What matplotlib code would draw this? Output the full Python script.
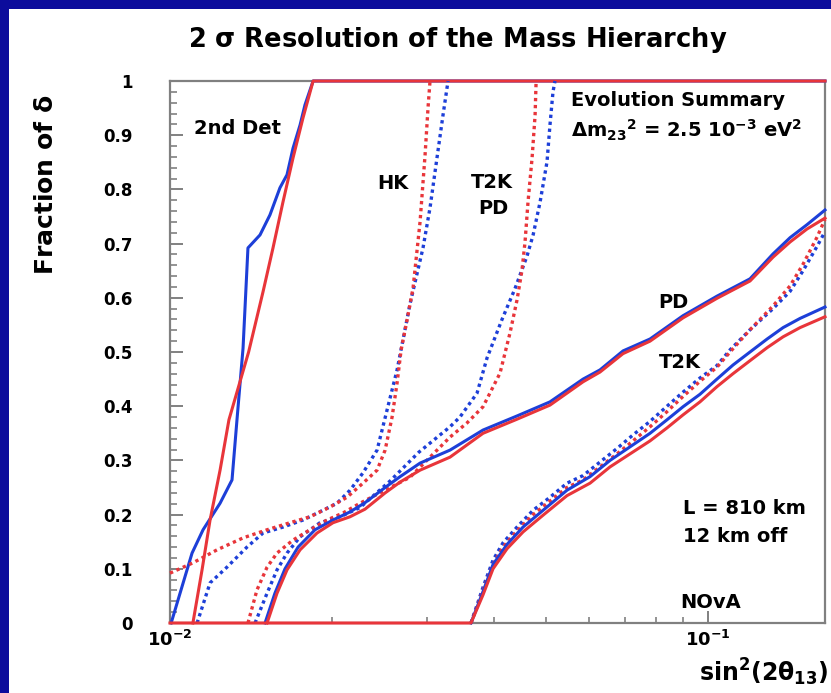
import matplotlib
matplotlib.use('Agg')
import matplotlib.pyplot as plt
from matplotlib.patches import Rectangle
from matplotlib.ticker import MultipleLocator, FixedLocator, NullFormatter

plt.rcParams['font.family'] = ['DejaVu Sans']
plt.rcParams['font.weight'] = 'bold'
plt.rcParams['mathtext.fontset'] = 'custom'
plt.rcParams['mathtext.rm'] = 'DejaVu Sans:bold'
plt.rcParams['mathtext.it'] = 'DejaVu Sans:bold'
plt.rcParams['mathtext.bf'] = 'DejaVu Sans:bold'

BLUE = '#1d3fd8'
RED = '#e8353a'
XMAX = 0.165

# 2nd detector (solid)
det2_blue_x = [0.01005, 0.01044, 0.01099, 0.01152, 0.01239, 0.01304, 0.01332, 0.01367, 0.01396,
               0.01470, 0.01534, 0.01601, 0.01650, 0.01693, 0.01745, 0.01782, 0.01845, XMAX]
det2_blue_y = [0.0, 0.055, 0.129, 0.172, 0.221, 0.264, 0.375, 0.507, 0.692,
               0.716, 0.753, 0.803, 0.827, 0.876, 0.919, 0.956, 1.0, 1.0]
det2_red_x = [0.01103, 0.01147, 0.01187, 0.01239, 0.01287, 0.01400, 0.01489, 0.01554, 0.01622,
              0.01693, 0.01767, 0.01845, XMAX]
det2_red_y = [0.0, 0.098, 0.190, 0.282, 0.375, 0.500, 0.611, 0.692, 0.777,
              0.858, 0.932, 1.0, 1.0]

# HK (dotted)
hk_red_x = [0.01000, 0.01103, 0.01223, 0.01367, 0.01515, 0.01671, 0.01821, 0.01983, 0.02133, 0.02284,
            0.02426, 0.02511, 0.02587, 0.02643, 0.02689, 0.02758, 0.02830, 0.02916, 0.02979, 0.03017, 0.03043]
hk_red_y = [0.092, 0.111, 0.135, 0.157, 0.172, 0.185, 0.196, 0.214, 0.232, 0.258,
            0.282, 0.319, 0.380, 0.443, 0.504, 0.559, 0.618, 0.740, 0.863, 0.950, 1.0]
hk_blue_x = [0.01123, 0.01187, 0.01276, 0.01390, 0.01489, 0.01622, 0.01767, 0.01925, 0.02044, 0.02161,
             0.02284, 0.02426, 0.02532, 0.02643, 0.02794, 0.02953, 0.03043, 0.03135, 0.03217, 0.03287]
hk_blue_y = [0.0, 0.074, 0.103, 0.140, 0.166, 0.177, 0.190, 0.208, 0.221, 0.245,
             0.277, 0.319, 0.393, 0.467, 0.589, 0.692, 0.766, 0.858, 0.937, 1.0]

# T2K + PD (dotted)
t2kpd_red_x = [0.01396, 0.01451, 0.01515, 0.01581, 0.01693, 0.01821, 0.01958, 0.02097, 0.02255, 0.02511,
               0.02794, 0.03315, 0.03564, 0.03818, 0.04106, 0.04285, 0.04416, 0.04511, 0.04570, 0.04629,
               0.04710, 0.04771, 0.04792]
t2kpd_red_y = [0.0, 0.061, 0.103, 0.129, 0.153, 0.172, 0.190, 0.203, 0.221, 0.245,
               0.269, 0.343, 0.369, 0.399, 0.461, 0.535, 0.596, 0.651, 0.703, 0.777,
               0.858, 0.937, 1.0]
t2kpd_blue_x = [0.01439, 0.01515, 0.01581, 0.01650, 0.01745, 0.01900, 0.02070, 0.02255, 0.02565, 0.02900,
                0.03315, 0.03459, 0.03721, 0.03884, 0.04141, 0.04378, 0.04609, 0.04731, 0.04875, 0.05021,
                0.05085, 0.05151, 0.05195]
t2kpd_blue_y = [0.0, 0.055, 0.098, 0.129, 0.159, 0.185, 0.196, 0.213, 0.262, 0.315,
                0.362, 0.380, 0.424, 0.489, 0.560, 0.617, 0.677, 0.716, 0.777, 0.851,
                0.919, 0.980, 1.0]

# PD (solid)
pd_red_x = [0.01515, 0.01581, 0.01650, 0.01745, 0.01876, 0.02009, 0.02161, 0.02304, 0.02511, 0.02677,
            0.02916, 0.03315, 0.03818, 0.04416, 0.05085, 0.05858, 0.06299, 0.06951, 0.07803, 0.08987,
            0.1039, 0.1197, 0.1321, 0.1421, 0.1528, XMAX]
pd_red_y = [0.0, 0.055, 0.098, 0.135, 0.166, 0.185, 0.196, 0.210, 0.240, 0.260,
            0.282, 0.306, 0.350, 0.376, 0.402, 0.445, 0.463, 0.497, 0.520, 0.563,
            0.599, 0.631, 0.675, 0.703, 0.727, 0.747]
pd_blue_x = [0.01502, 0.01567, 0.01636, 0.01730, 0.01860, 0.02009, 0.02161, 0.02304, 0.02511, 0.02677,
             0.02916, 0.03315, 0.03818, 0.04416, 0.05085, 0.05858, 0.06299, 0.06951, 0.07803, 0.08987,
             0.1039, 0.1197, 0.1321, 0.1421, 0.1528, XMAX]
pd_blue_y = [0.0, 0.055, 0.100, 0.140, 0.172, 0.190, 0.205, 0.222, 0.250, 0.270,
             0.295, 0.319, 0.356, 0.382, 0.408, 0.450, 0.467, 0.502, 0.524, 0.567,
             0.603, 0.635, 0.681, 0.711, 0.735, 0.762]

# T2K (dotted)
t2k_x = [0.03626, 0.03818, 0.03985, 0.04159, 0.04416, 0.04731, 0.05085, 0.05469, 0.05858, 0.06299,
         0.06775, 0.07255, 0.07803, 0.08392, 0.08987, 0.09663, 0.1039, 0.1099, 0.1197, 0.1321,
         0.1421, 0.1502, 0.1595, XMAX]
t2k_blue_y = [0.0, 0.066, 0.116, 0.148, 0.177, 0.208, 0.232, 0.258, 0.272, 0.297,
              0.322, 0.347, 0.372, 0.400, 0.426, 0.452, 0.475, 0.504, 0.541, 0.580,
              0.612, 0.650, 0.695, 0.722]
t2k_red_y = [0.0, 0.060, 0.108, 0.140, 0.170, 0.200, 0.225, 0.250, 0.264, 0.288,
             0.312, 0.336, 0.362, 0.390, 0.418, 0.446, 0.472, 0.500, 0.541, 0.585,
             0.622, 0.662, 0.712, 0.745]

# NOvA alone (solid)
nova_x = [0.03626, 0.03818, 0.03985, 0.04231, 0.04531, 0.04938, 0.05469, 0.06036, 0.06575, 0.07162,
          0.07803, 0.08392, 0.08987, 0.09663, 0.1039, 0.1113, 0.1197, 0.1288, 0.1379, 0.1483, XMAX]
nova_blue_y = [0.0, 0.058, 0.108, 0.145, 0.177, 0.208, 0.245, 0.270, 0.300, 0.325,
               0.350, 0.375, 0.399, 0.422, 0.450, 0.476, 0.500, 0.524, 0.545, 0.562, 0.583]
nova_red_y = [0.0, 0.052, 0.100, 0.137, 0.168, 0.199, 0.235, 0.258, 0.288, 0.312,
              0.336, 0.360, 0.384, 0.408, 0.436, 0.460, 0.484, 0.508, 0.528, 0.545, 0.565]

y_ticks = [0, 0.1, 0.2, 0.3, 0.4, 0.5, 0.6, 0.7, 0.8, 0.9, 1]
y_labels = ['0', '0.1', '0.2', '0.3', '0.4', '0.5', '0.6', '0.7', '0.8', '0.9', '1']

fig = plt.figure(figsize=(8.31, 6.93), dpi=100, facecolor='#0c0c9c')
fig.patches.append(Rectangle((9 / 831, 0), 1, 684 / 693, transform=fig.transFigure,
                             facecolor='white', edgecolor='none', zorder=-10))
ax = fig.add_axes([170 / 831, 70 / 693, 655 / 831, 542 / 693])

solid = dict(linewidth=2.2, zorder=3, clip_on=False)
dotted = dict(linewidth=2.4, linestyle=(0, (1, 1.1)), zorder=3, clip_on=False)

ax.plot(det2_blue_x, det2_blue_y, color=BLUE, **solid)
ax.plot(det2_red_x, det2_red_y, color=RED, **solid)
ax.plot(hk_blue_x, hk_blue_y, color=BLUE, **dotted)
ax.plot(hk_red_x, hk_red_y, color=RED, **dotted)
ax.plot(t2kpd_blue_x, t2kpd_blue_y, color=BLUE, **dotted)
ax.plot(t2kpd_red_x, t2kpd_red_y, color=RED, **dotted)
ax.plot(pd_blue_x, pd_blue_y, color=BLUE, **solid)
ax.plot(pd_red_x, pd_red_y, color=RED, **solid)
ax.plot(t2k_x, t2k_blue_y, color=BLUE, **dotted)
ax.plot(t2k_x, t2k_red_y, color=RED, **dotted)
ax.plot(nova_x, nova_blue_y, color=BLUE, **solid)
ax.plot([0.01] + nova_x, [0.0] + nova_red_y, color=RED, **solid)

ax.set_xscale('log')
ax.set_xlim(0.01, XMAX)
ax.set_ylim(0, 1)

for s in ax.spines.values():
    s.set_color('#808080')
    s.set_linewidth(1.6)

ax.set_yticks(y_ticks)
ax.set_yticklabels(y_labels, fontsize=12, fontweight='bold')
ax.yaxis.set_minor_locator(MultipleLocator(0.02))
ax.tick_params(axis='y', which='major', direction='in', length=9, width=1.4, color='#808080', pad=27)
ax.tick_params(axis='y', which='minor', direction='in', length=5, width=1.2, color='#808080')

ax.xaxis.set_major_locator(FixedLocator([0.01, 0.1]))
ax.xaxis.set_minor_locator(FixedLocator([0.02, 0.03, 0.04, 0.05, 0.06, 0.07, 0.08, 0.09]))
ax.xaxis.set_minor_formatter(NullFormatter())
ax.set_xticklabels([r'$\mathbf{10^{-2}}$', r'$\mathbf{10^{-1}}$'], fontsize=13)
ax.tick_params(axis='x', which='major', direction='in', length=9, width=1.4, color='#808080', pad=5)
ax.tick_params(axis='x', which='minor', direction='in', length=4, width=1.2, color='#808080')

fig.text(458 / 831, 1 - 40 / 693, r'2 $\sigma$ Resolution of the Mass Hierarchy',
         ha='center', va='center', fontsize=18.5, fontweight='bold')
fig.text(46 / 831, 1 - 185 / 693, r'Fraction of $\delta$', rotation=90,
         ha='center', va='center', fontsize=18, fontweight='bold')
fig.text(828 / 831, 1 - 672 / 693, r'sin$^{2}$(2$\theta_{13}$)',
         ha='right', va='center', fontsize=17, fontweight='bold')

def label(px, py, s, ha='center', size=14):
    ax.text(px / 831, 1 - py / 693, s, transform=fig.transFigure,
            ha=ha, va='center', fontsize=size, fontweight='bold')

label(237, 129, '2nd Det')
label(393, 183, 'HK')
label(492, 182, 'T2K')
label(493, 208, 'PD')
label(571, 100, 'Evolution Summary', ha='left')
label(571, 130, r'$\Delta$m$_{23}$$^{2}$ = 2.5 10$^{-3}$ eV$^{2}$', ha='left')
label(673, 302, 'PD')
label(680, 362, 'T2K')
label(683, 508, 'L = 810 km', ha='left')
label(683, 537, '12 km off', ha='left')
label(711, 603, 'NOvA')

fig.savefig('out.png', dpi=100, facecolor=fig.get_facecolor())
